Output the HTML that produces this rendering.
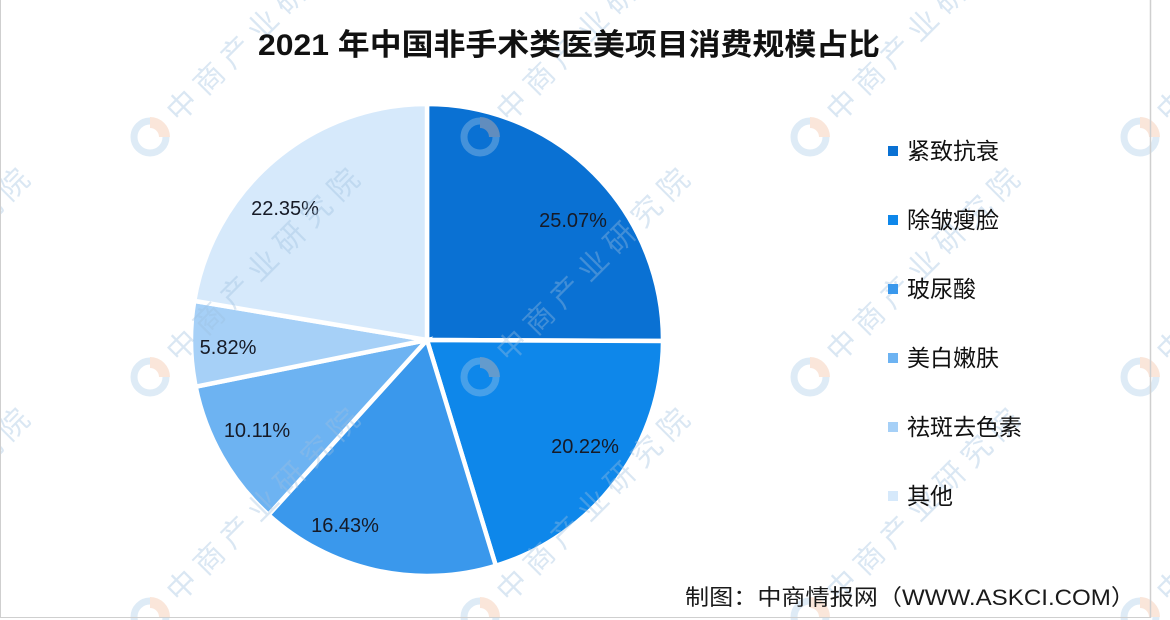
<!DOCTYPE html>
<html>
<head>
<meta charset="utf-8">
<style>
html,body{margin:0;padding:0;background:#fff;}
svg{display:block;}
</style>
</head>
<body>
<svg width="1170" height="620" viewBox="0 0 1170 620" xmlns="http://www.w3.org/2000/svg">
<defs>
<g id="wm">
  <circle cx="0" cy="0" r="16" fill="none" stroke="#a8cbe8" stroke-width="7"/>
  <path d="M0,-20 A20,20 0 0 1 20,0 L9,0 A9,9 0 0 0 0,-9 Z" fill="#f2bd9e"/>
  <text x="30" y="11" transform="rotate(-45)" font-family="'Liberation Sans','Noto Sans CJK SC',sans-serif" font-size="30" letter-spacing="8" fill="#9dbfdf">中商产业研究院</text>
</g>
</defs>
<rect x="0" y="0" width="1170" height="620" fill="#ffffff"/>

<!-- pie -->
<g stroke="#ffffff" stroke-width="4.5" stroke-linejoin="miter">
  <path d="M427,340 L427,104 A236,236 0 0 1 663.0,341.04 Z" fill="#0a71d3"/>
  <path d="M427,340 L663.0,341.04 A236,236 0 0 1 495.84,565.74 Z" fill="#0e87ea"/>
  <path d="M427,340 L495.84,565.74 A236,236 0 0 1 268.50,514.86 Z" fill="#3a98ec"/>
  <path d="M427,340 L268.50,514.86 A236,236 0 0 1 195.67,386.69 Z" fill="#6db3f2"/>
  <path d="M427,340 L195.67,386.69 A236,236 0 0 1 194.26,300.89 Z" fill="#a6d0f7"/>
  <path d="M427,340 L194.26,300.89 A236,236 0 0 1 427,104 Z" fill="#d6e9fb"/>
</g>

<g font-family="'Liberation Sans',sans-serif" font-size="20" fill="#161a26" text-anchor="middle">
  <text x="573" y="227">25.07%</text>
  <text x="585" y="453">20.22%</text>
  <text x="345" y="532">16.43%</text>
  <text x="257" y="437">10.11%</text>
  <text x="228" y="354">5.82%</text>
  <text x="285" y="215">22.35%</text>
</g>

<!-- watermarks -->
<g opacity="0.38">
  <use href="#wm" x="-180" y="137"/>
  <use href="#wm" x="150" y="137"/>
  <use href="#wm" x="480" y="137"/>
  <use href="#wm" x="810" y="137"/>
  <use href="#wm" x="1140" y="137"/>
  <use href="#wm" x="-180" y="377"/>
  <use href="#wm" x="150" y="377"/>
  <use href="#wm" x="480" y="377"/>
  <use href="#wm" x="810" y="377"/>
  <use href="#wm" x="1140" y="377"/>
  <use href="#wm" x="-180" y="617"/>
  <use href="#wm" x="150" y="617"/>
  <use href="#wm" x="480" y="617"/>
  <use href="#wm" x="810" y="617"/>
  <use href="#wm" x="1140" y="617"/>
</g>

<!-- title -->
<text x="258" y="55" font-family="'Liberation Sans','Noto Sans CJK SC',sans-serif" font-size="30" font-weight="bold" fill="#111111" textLength="622" lengthAdjust="spacingAndGlyphs">2021 年中国非手术类医美项目消费规模占比</text>

<!-- legend -->
<g>
  <rect x="888" y="146" width="10" height="10" fill="#0a71d3"/>
  <rect x="888" y="215" width="10" height="10" fill="#0e87ea"/>
  <rect x="888" y="284" width="10" height="10" fill="#3a98ec"/>
  <rect x="888" y="353" width="10" height="10" fill="#6db3f2"/>
  <rect x="888" y="422" width="10" height="10" fill="#a6d0f7"/>
  <rect x="888" y="491" width="10" height="10" fill="#d6e9fb"/>
</g>
<g font-family="'Liberation Sans','Noto Sans CJK SC',sans-serif" font-size="23" fill="#111111">
  <text x="907" y="159">紧致抗衰</text>
  <text x="907" y="228">除皱瘦脸</text>
  <text x="907" y="297">玻尿酸</text>
  <text x="907" y="366">美白嫩肤</text>
  <text x="907" y="435">祛斑去色素</text>
  <text x="907" y="504">其他</text>
</g>

<!-- footer -->
<text x="685" y="605" font-family="'Liberation Sans','Noto Sans CJK SC',sans-serif" font-size="22" fill="#1a1a1a" textLength="450" lengthAdjust="spacingAndGlyphs">制图：中商情报网（WWW.ASKCI.COM）</text>

<!-- frame -->
<line x1="0.5" y1="0" x2="0.5" y2="618" stroke="#cfcfcf" stroke-width="1"/>
<line x1="1150.5" y1="0" x2="1150.5" y2="618" stroke="#cfcfcf" stroke-width="1.5"/>
<line x1="0" y1="617.5" x2="1151" y2="617.5" stroke="#cfcfcf" stroke-width="1"/>
</svg>
</body>
</html>
